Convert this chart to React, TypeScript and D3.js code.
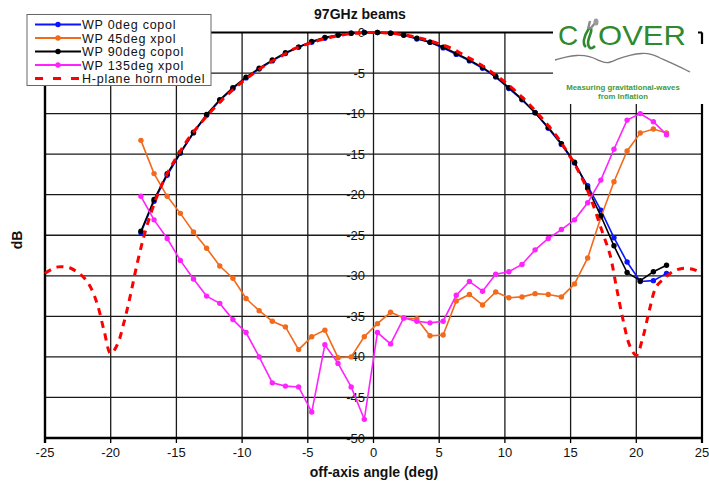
import React from "react";
import * as d3 from "d3";

// Measured beam cuts share the same scan angles (deg)
const scanAngles = [
  -17.7, -16.7, -15.7, -14.7, -13.7, -12.7, -11.7, -10.7, -9.7, -8.7, -7.7, -6.7, -5.7, -4.7,
  -3.7, -2.7, -1.7, -0.7, 0.3, 1.3, 2.3, 3.3, 4.3, 5.3, 6.3, 7.3, 8.3, 9.3, 10.3, 11.3, 12.3,
  13.3, 14.3, 15.3, 16.3, 17.3, 18.3, 19.3, 20.3, 21.3, 22.3,
];

const wp0Copol = [
  -24.7, -20.8, -17.6, -14.9, -12.4, -10.2, -8.4, -6.9, -5.6, -4.5, -3.5, -2.6, -1.8, -1.2,
  -0.7, -0.35, -0.1, 0, 0, -0.1, -0.35, -0.8, -1.2, -1.9, -2.7, -3.5, -4.4, -5.5, -6.9, -8.3,
  -9.9, -11.8, -13.8, -16.1, -18.9, -21.9, -25.3, -28.3, -30.7, -30.6, -29.7,
];

const wp45Xpol = [
  -13.3, -17.4, -20.2, -22.3, -24.6, -26.6, -28.8, -30.3, -32.8, -34.3, -35.6, -36.3, -39.1,
  -37.5, -36.7, -40.1, -40.0, -37.5, -35.9, -34.5, -35.2, -35.3, -37.4, -37.3, -33.1, -32.3,
  -33.6, -32.0, -32.7, -32.6, -32.2, -32.3, -32.6, -31.0, -27.8, -22.8, -18.4, -14.6, -12.4,
  -11.9, -12.4,
];

const wp90Copol = [
  -24.5, -20.6, -17.4, -14.8, -12.3, -10.1, -8.3, -6.8, -5.5, -4.4, -3.4, -2.5, -1.8, -1.1,
  -0.6, -0.3, -0.1, 0, 0, -0.1, -0.3, -0.7, -1.2, -1.8, -2.6, -3.4, -4.3, -5.4, -6.8, -8.2,
  -9.9, -11.7, -13.7, -16.0, -19.2, -22.6, -26.3, -29.6, -30.6, -29.5, -28.7,
];

const wp135Xpol = [
  -20.2, -23.1, -25.4, -28.1, -30.4, -32.5, -33.4, -35.4, -37.0, -40.0, -43.2, -43.6, -43.7,
  -46.8, -38.5, -40.8, -43.7, -47.7, -37.0, -38.4, -35.2, -35.6, -35.8, -35.6, -32.4, -30.7,
  -31.9, -29.8, -29.5, -28.6, -26.8, -25.4, -24.3, -23.1, -21.0, -18.2, -14.4, -10.8, -10.0,
  -11.0, -12.6,
];

// H-plane horn model
const hornAngles = [
  -25, -24.5, -24, -23.5, -23, -22.5, -22, -21.5, -21, -20.5, -20, -19.5, -19, -18.5, -18,
  -17.5, -17, -16.5, -16, -15.5, -15, -14.5, -14, -13, -12, -11, -10, -9, -8, -7, -6, -5, -4,
  -3, -2, -1, 0, 1, 2, 3, 4, 5, 6, 7, 8, 9, 10, 11, 12, 13, 14, 14.5, 15, 15.5, 16, 16.5, 17,
  17.5, 18, 18.5, 19, 19.5, 20, 20.5, 21, 21.5, 22, 22.5, 23, 23.5, 24, 24.5, 25,
];
const hornDb = [
  -29.7, -29.2, -28.9, -28.9, -29.1, -29.6, -30.3, -31.5, -33.6, -36.8, -39.6, -38.5, -35.8,
  -32.4, -28.6, -25.3, -22.6, -20.3, -18.4, -16.8, -15.4, -14.1, -12.9, -10.9, -9.1, -7.5,
  -6.1, -4.9, -3.8, -2.9, -2.0, -1.4, -0.9, -0.5, -0.2, -0.05, 0, -0.05, -0.2, -0.5, -0.9,
  -1.4, -2.0, -2.9, -3.8, -4.9, -6.1, -7.5, -9.1, -10.9, -12.9, -14.1, -15.4, -16.8, -18.4,
  -20.3, -22.6, -25.0, -27.4, -31.5, -35.5, -38.6, -39.8, -37.6, -34.2, -31.4, -30.5, -29.8,
  -29.3, -29.1, -29.1, -29.3, -29.7,
];

const xTicks = [-25, -20, -15, -10, -5, 0, 5, 10, 15, 20, 25];
const yTicks = [0, -5, -10, -15, -20, -25, -30, -35, -40, -45, -50];

const legendLabels = [
  "WP  0deg copol",
  "WP  45deg xpol",
  "WP  90deg copol",
  "WP  135deg xpol",
  "H-plane horn model",
];

const FONT = "'Liberation Sans', Arial, sans-serif";

const W = 709;
const H = 489;
const PL = 45;
const PR = 702;
const PT = 32.5;
const PB = 438;

export default function App() {
  const x = d3.scaleLinear().domain([-25, 25]).range([PL, PR]);
  const y = d3.scaleLinear().domain([-50, 0]).range([PB, PT]);

  const measured = [
    { name: legendLabels[0], values: wp0Copol, color: "#0a14ff" },
    { name: legendLabels[1], values: wp45Xpol, color: "#f26a1b" },
    { name: legendLabels[2], values: wp90Copol, color: "#000000" },
    { name: legendLabels[3], values: wp135Xpol, color: "#ff22ff" },
  ];

  const line = d3
    .line<[number, number]>()
    .x((d) => x(d[0]))
    .y((d) => y(d[1]));

  const hornLine = d3
    .line<[number, number]>()
    .x((d) => x(d[0]))
    .y((d) => y(d[1]))
    .curve(d3.curveCatmullRom);

  const hornPts: [number, number][] = hornAngles.map((a, i) => [a, hornDb[i]]);

  const legendRowY = [24.5, 38, 51.5, 65, 78.5];
  const legendColors = ["#0a14ff", "#f26a1b", "#000000", "#ff22ff", "#ff0000"];

  const mountain = d3
    .line<[number, number]>()
    .curve(d3.curveBasis)([
      [555, 60],
      [566, 57],
      [576, 55],
      [590, 56],
      [600, 61],
      [607, 64],
      [617, 59],
      [630, 55],
      [642, 53],
      [652, 54],
      [662, 59],
      [676, 65],
      [690, 72],
    ]);

  return (
    <svg
      width={W}
      height={H}
      style={{ position: "absolute", left: 0, top: 0, background: "#fff" }}
      fontFamily={FONT}
    >
      <rect x={0} y={0} width={W} height={H} fill="#fff" />

      {/* grid */}
      {xTicks.slice(1, -1).map((t) => (
        <line key={"gx" + t} x1={x(t)} x2={x(t)} y1={PT} y2={PB} stroke="#1a1a1a" strokeWidth={1.3} />
      ))}
      {yTicks.slice(1, -1).map((t) => (
        <line key={"gy" + t} x1={PL} x2={PR} y1={y(t)} y2={y(t)} stroke="#1a1a1a" strokeWidth={1.3} />
      ))}
      {/* frame */}
      <line x1={PL} x2={PR} y1={PT} y2={PT} stroke="#000" strokeWidth={2.2} />
      <line x1={PL} x2={PR} y1={PB} y2={PB} stroke="#000" strokeWidth={2.4} />
      <line x1={PL} x2={PL} y1={PT} y2={PB + 5} stroke="#000" strokeWidth={2.4} />
      <line x1={PR} x2={PR} y1={PT} y2={PB + 5} stroke="#000" strokeWidth={2.2} />
      {xTicks.map((t) => (
        <line key={"tk" + t} x1={x(t)} x2={x(t)} y1={PB} y2={PB + 5} stroke="#000" strokeWidth={1.3} />
      ))}

      {/* axis labels */}
      {xTicks.map((t) => (
        <text key={"xl" + t} x={x(t)} y={457} fontSize={13} textAnchor="middle" fill="#111">
          {t}
        </text>
      ))}
      {yTicks.map((t) => (
        <text key={"yl" + t} x={365} y={y(t) + 4.5} fontSize={13} textAnchor="end" fill="#111">
          {t}
        </text>
      ))}
      <text x={360} y={19} fontSize={14} fontWeight="bold" textAnchor="middle" fill="#111">
        97GHz beams
      </text>
      <text x={374} y={477} fontSize={14} fontWeight="bold" textAnchor="middle" fill="#111">
        off-axis angle (deg)
      </text>
      <text
        transform="translate(22,240) rotate(-90)"
        fontSize={14}
        fontWeight="bold"
        textAnchor="middle"
        fill="#111"
      >
        dB
      </text>

      {/* measured series */}
      {measured.map((s) => {
        const pts: [number, number][] = scanAngles.map((a, i) => [a, s.values[i]]);
        return (
          <g key={s.name}>
            <path d={line(pts) || ""} fill="none" stroke={s.color} strokeWidth={1.6} />
            {pts.map((p, i) => (
              <circle key={i} cx={x(p[0])} cy={y(p[1])} r={2.7} fill={s.color} />
            ))}
          </g>
        );
      })}

      {/* horn model */}
      <path
        d={hornLine(hornPts) || ""}
        fill="none"
        stroke="#ff0000"
        strokeWidth={3}
        strokeDasharray="7,6"
      />

      {/* legend */}
      <rect x={27} y={14.5} width={184} height={71} fill="#fff" stroke="#666" strokeWidth={1} />
      {legendLabels.map((lab, i) => (
        <g key={lab}>
          {i < 4 ? (
            <>
              <line x1={35} x2={81} y1={legendRowY[i]} y2={legendRowY[i]} stroke={legendColors[i]} strokeWidth={2} />
              <circle cx={58} cy={legendRowY[i]} r={2.7} fill={legendColors[i]} />
            </>
          ) : (
            <line
              x1={35}
              x2={81}
              y1={legendRowY[i]}
              y2={legendRowY[i]}
              stroke={legendColors[i]}
              strokeWidth={3}
              strokeDasharray="8,10"
            />
          )}
          <text
            x={82}
            y={legendRowY[i] + 4.6}
            fontSize={12.5}
            letterSpacing={0.75}
            fill="#111"
          >
            {lab}
          </text>
        </g>
      ))}

      {/* CLOVER logo */}
      <rect x={553} y={18} width={145} height={86} fill="#fff" />
      <rect x={697} y={44} width={12} height={60} fill="#fff" />
      <text x={558} y={45} fontSize={28} fill="#2f8a2f">
        C
      </text>
      <path
        d="M586,47 C582,44 584,36 588,30 C590,27 592,28 591,32 C589,38 586,44 590,48 C592,49 594,47 595,46"
        fill="none"
        stroke="#2f8a2f"
        strokeWidth={2.6}
      />
      <path d="M588,29 L590,21 M590,29 L596,22" stroke="#8a8a8a" strokeWidth={2.4} fill="none" />
      <ellipse cx={596} cy={22} rx={2.5} ry={3.5} fill="#9a9a9a" />
      <text x={598} y={45} fontSize={28} fill="#2f8a2f" textLength={88} lengthAdjust="spacingAndGlyphs">
        OVER
      </text>
      <path d={mountain || ""} fill="none" stroke="#7a7a7a" strokeWidth={1.3} />
      <text x={623} y={90} fontSize={7.8} fontWeight="bold" textAnchor="middle" fill="#3f9a3f">
        Measuring gravitational-waves
      </text>
      <text x={623} y={99} fontSize={7.8} fontWeight="bold" textAnchor="middle" fill="#3f9a3f">
        from Inflation
      </text>
    </svg>
  );
}
